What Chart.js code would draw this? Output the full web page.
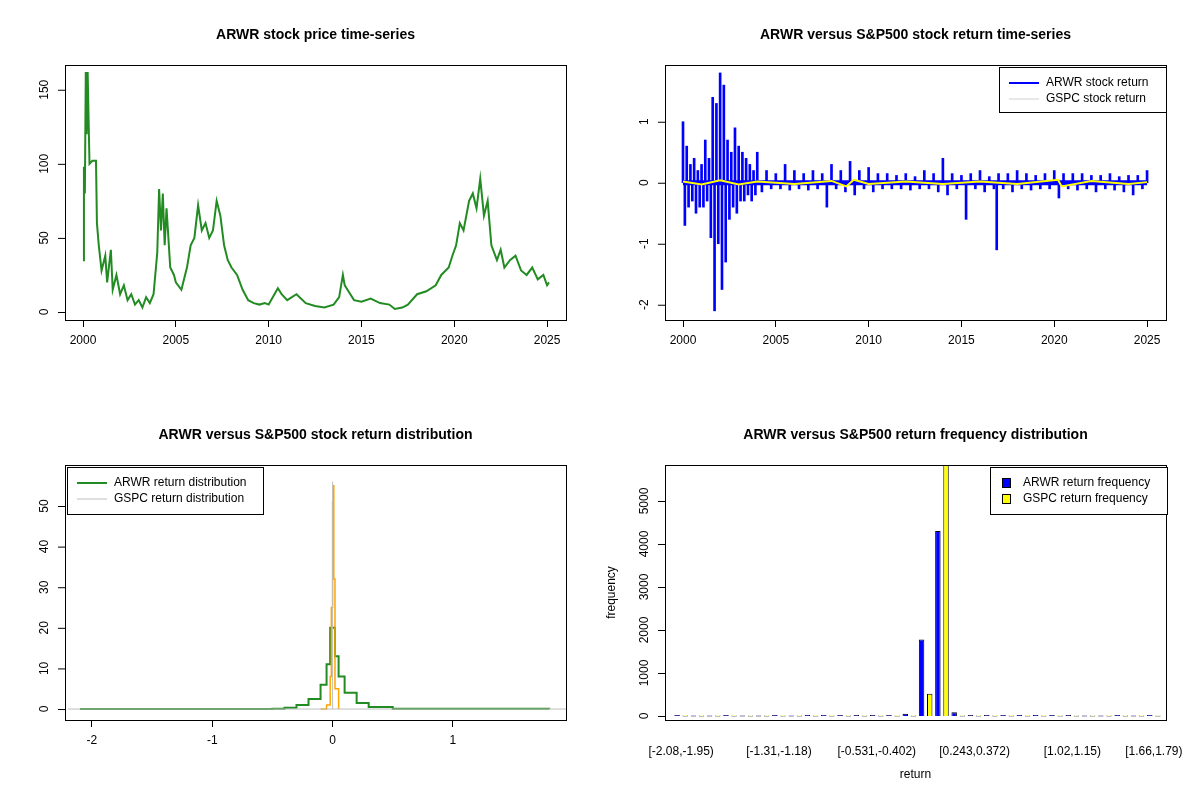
<!DOCTYPE html>
<html><head><meta charset="utf-8">
<script src="https://cdn.jsdelivr.net/npm/chart.js@4.4.1/dist/chart.umd.min.js"></script>
<style>body{margin:0;background:#fff}canvas{position:absolute}</style>
</head><body>
<canvas id="c1" width="600" height="400" style="left:0;top:0"></canvas>
<canvas id="c2" width="600" height="400" style="left:600px;top:0"></canvas>
<canvas id="c3" width="600" height="400" style="left:0;top:400px"></canvas>
<canvas id="c4" width="600" height="400" style="left:600px;top:400px"></canvas>
<script>
const priceYears=[2000.0,2000.05,2000.1,2000.15,2000.2,2000.25,2000.35,2000.5,2000.7,2000.75,2000.85,2001.0,2001.2,2001.3,2001.5,2001.6,2001.8,2002.0,2002.2,2002.4,2002.6,2002.8,2003.0,2003.2,2003.4,2003.6,2003.8,2004.0,2004.1,2004.2,2004.3,2004.4,2004.5,2004.7,2004.9,2005.0,2005.3,2005.6,2005.8,2006.0,2006.2,2006.4,2006.6,2006.8,2007.0,2007.2,2007.4,2007.6,2007.8,2008.0,2008.3,2008.6,2008.9,2009.2,2009.5,2009.8,2010.0,2010.5,2010.7,2011.0,2011.5,2012.0,2012.5,2013.0,2013.5,2013.8,2014.0,2014.1,2014.3,2014.6,2015.0,2015.5,2016.0,2016.5,2016.8,2017.2,2017.5,2018.0,2018.5,2019.0,2019.3,2019.7,2019.9,2020.1,2020.3,2020.5,2020.8,2021.0,2021.2,2021.4,2021.6,2021.8,2022.0,2022.3,2022.5,2022.7,2023.0,2023.3,2023.6,2023.9,2024.2,2024.5,2024.8,2025.0,2025.1];
const priceVals=[35,98,80,162,120,162,100,102,102,60,45,28,38,20,42,15,25,12,18,8,12,5,8,3,10,6,12,40,83,55,80,45,70,30,25,20,15,30,45,50,72,55,60,50,55,75,65,45,35,30,25,15,8,6,5,6,5,16,12,8,12,6,4,3,5,10,25,18,14,8,7,9,6,5,2,3,5,12,14,18,25,30,38,45,60,55,75,80,70,90,65,75,45,35,42,30,35,38,28,25,30,22,25,18,20];
const arwrRetYears=[2000.0,2000.1,2000.2,2000.3,2000.4,2000.5,2000.6,2000.7,2000.8,2000.9,2001.0,2001.1,2001.2,2001.3,2001.4,2001.5,2001.6,2001.7,2001.8,2001.9,2002.0,2002.1,2002.2,2002.3,2002.4,2002.5,2002.6,2002.7,2002.8,2002.9,2003.0,2003.1,2003.2,2003.3,2003.4,2003.5,2003.6,2003.7,2003.8,2003.9,2004.0,2004.25,2004.5,2004.75,2005.0,2005.25,2005.5,2005.75,2006.0,2006.25,2006.5,2006.75,2007.0,2007.25,2007.5,2007.75,2008.0,2008.25,2008.5,2008.75,2009.0,2009.25,2009.5,2009.75,2010.0,2010.25,2010.5,2010.75,2011.0,2011.25,2011.5,2011.75,2012.0,2012.25,2012.5,2012.75,2013.0,2013.25,2013.5,2013.75,2014.0,2014.25,2014.5,2014.75,2015.0,2015.25,2015.5,2015.75,2016.0,2016.25,2016.5,2016.75,2016.9,2017.0,2017.25,2017.5,2017.75,2018.0,2018.25,2018.5,2018.75,2019.0,2019.25,2019.5,2019.75,2020.0,2020.25,2020.5,2020.75,2021.0,2021.25,2021.5,2021.75,2022.0,2022.25,2022.5,2022.75,2023.0,2023.25,2023.5,2023.75,2024.0,2024.25,2024.5,2024.75,2025.0];
const arwrRetVals=[1.0,-0.7,0.6,-0.4,0.3,-0.3,0.4,-0.5,0.2,-0.4,0.3,-0.4,0.7,-0.3,0.4,-0.9,1.4,-2.1,1.3,-1.0,1.8,-1.75,1.6,-1.3,0.7,-0.6,0.5,-0.4,0.9,-0.5,0.6,-0.3,0.5,-0.3,0.4,-0.2,0.3,-0.3,0.2,-0.2,0.5,-0.15,0.2,-0.1,0.15,-0.1,0.3,-0.12,0.2,-0.1,0.15,-0.12,0.2,-0.1,0.15,-0.4,0.3,-0.1,0.2,-0.15,0.35,-0.2,0.2,-0.1,0.25,-0.15,0.15,-0.1,0.15,-0.1,0.12,-0.1,0.15,-0.12,0.1,-0.1,0.2,-0.1,0.15,-0.15,0.4,-0.2,0.15,-0.1,0.12,-0.6,0.15,-0.1,0.2,-0.15,0.1,-0.1,-1.1,0.15,-0.1,0.15,-0.15,0.2,-0.1,0.15,-0.12,0.12,-0.1,0.15,-0.1,0.2,-0.25,0.15,-0.1,0.15,-0.12,0.15,-0.1,0.12,-0.15,0.12,-0.1,0.15,-0.12,0.1,-0.15,0.12,-0.2,0.12,-0.1,0.2,-0.1,0.05];
const gspcRetYears=[2000,2001,2002,2003,2004,2006,2008,2008.8,2009.2,2010,2012,2014,2016,2018,2020.2,2020.4,2022,2024,2025];
const gspcRetVals=[0.02,-0.03,0.04,-0.03,0.02,-0.02,0.03,-0.06,0.05,-0.02,0.02,-0.02,0.02,-0.02,0.05,-0.06,0.03,-0.02,0.01];
const arwrDensX=[-2.1,-0.5,-0.4,-0.3,-0.2,-0.1,-0.05,-0.02,0,0.02,0.05,0.1,0.2,0.3,0.5,1.8];
const arwrDensY=[0,0.1,0.3,1,2.5,6,11,20,20,13,8,4,1.5,0.5,0.1,0];
const gspcDensX=[-0.1,-0.05,-0.02,-0.01,0,0.005,0.01,0.02,0.05];
const gspcDensY=[0,1,8,25,51,55,32,5,0];
const binLabels=["[-2.08,-1.95)","[-1.95,-1.82)","[-1.82,-1.69)","[-1.69,-1.56)","[-1.56,-1.44)","[-1.44,-1.31)","[-1.31,-1.18)","[-1.18,-1.05)","[-1.05,-0.918)","[-0.918,-0.789)","[-0.789,-0.66)","[-0.66,-0.531)","[-0.531,-0.402)","[-0.402,-0.273)","[-0.273,-0.144)","[-0.144,-0.015)","[-0.015,0.114)","[0.114,0.243)","[0.243,0.372)","[0.372,0.501)","[0.501,0.63)","[0.63,0.759)","[0.759,0.888)","[0.888,1.02)","[1.02,1.15)","[1.15,1.27)","[1.27,1.4)","[1.4,1.53)","[1.53,1.66)","[1.66,1.79)"];
const arwrFreq=[1,0,0,1,0,0,1,0,1,2,3,4,20,25,50,1780,4300,90,20,20,5,20,3,2,1,0,0,1,0,1];
const gspcFreq=[0,0,0,0,0,0,0,0,0,0,0,0,0,0,0,520,5900,0,0,0,0,0,0,0,0,0,0,0,0,0];
const shownBins=[0,6,12,18,24,29];

const FONT='"Liberation Sans", Arial, sans-serif';
Chart.defaults.font.family=FONT;Chart.defaults.font.size=12;Chart.defaults.color='#000';
Chart.defaults.animation=false;Chart.defaults.devicePixelRatio=1;
const FRAME={left:65,top:65,right:566,bottom:320};

function rPlugin(title,yTicks,legend,extra){return{id:'r',afterDraw(c){const x=c.ctx,a=FRAME;x.save();
x.strokeStyle='#000';x.lineWidth=1;x.strokeRect(a.left+0.5,a.top+0.5,a.right-a.left,a.bottom-a.top);
x.fillStyle='#000';x.font='bold 14px '+FONT;x.textAlign='center';x.textBaseline='middle';x.fillText(title,(a.left+a.right)/2,35);
x.font='12px '+FONT;const ys=c.scales.y;
yTicks.forEach(v=>{const p=ys.getPixelForValue(v);x.save();x.translate(a.left-20,p);x.rotate(-Math.PI/2);x.fillText(String(v),0,0);x.restore();
x.beginPath();x.moveTo(a.left,p+0.5);x.lineTo(a.left-7,p+0.5);x.stroke();});
if(legend){const L=legend;x.fillStyle='#fff';x.fillRect(L.x,L.y,L.w,L.h);x.strokeRect(L.x+0.5,L.y+0.5,L.w,L.h);
L.items.forEach((it,i)=>{const yy=L.y+16+i*16;if(it.box){x.fillStyle=it.color;x.fillRect(L.x+12,yy-5,9,10);x.strokeStyle='#000';x.strokeRect(L.x+12.5,yy-4.5,8,9);}
else{x.strokeStyle=it.color;x.lineWidth=it.lw;x.beginPath();x.moveTo(L.x+10,yy);x.lineTo(L.x+40,yy);x.stroke();x.lineWidth=1;}
x.fillStyle='#000';x.textAlign='left';x.fillText(it.label,L.x+(it.box?33:47),yy);});}
if(extra)extra(x,a);x.restore();}}}
function xAxis(min,max,step){return{type:'linear',min,max,offset:false,afterFit(s){s.height=80;s.paddingLeft=0;s.paddingRight=0},afterBuildTicks(s){const t=[];for(let v=Math.ceil(min/step)*step;v<=max;v+=step)t.push({value:Math.round(v*1000)/1000});s.ticks=t},
grid:{display:true,offset:false,drawOnChartArea:false,tickLength:7,color:'#000'},border:{display:false},ticks:{padding:6,maxRotation:0,callback:v=>String(v)}}}
function yAxis(min,max,w){return{type:'linear',min,max,afterFit(s){s.width=w||65},grid:{display:false},border:{display:false},ticks:{display:false}}}
const layout={padding:{top:65,right:34,left:0,bottom:0}};
const common={responsive:false,layout,plugins:{legend:{display:false},tooltip:{enabled:false}}};

new Chart(c1,{type:'line',data:{datasets:[{data:priceYears.map((v,i)=>({x:v,y:priceVals[i]})),borderColor:'#228B22',borderWidth:2,pointRadius:0,tension:0}]},
options:Object.assign({},common,{scales:{x:xAxis(1999.03,2026.02,5),y:yAxis(-5.4,166.7)}}),plugins:[rPlugin('ARWR stock price time-series',[0,50,100,150])]});

new Chart(c2,{type:'bar',data:{datasets:[
{type:'line',data:gspcRetYears.map((v,i)=>({x:v,y:gspcRetVals[i]})),borderColor:'#FFFF00',borderWidth:2,pointRadius:0,order:0},
{data:arwrRetYears.map((v,i)=>({x:v,y:arwrRetVals[i]})),backgroundColor:'#0000FF',barThickness:2,order:1}]},
options:Object.assign({},common,{scales:{x:xAxis(1999.03,2026.02,5),y:yAxis(-2.25,1.93)}}),
plugins:[{id:'zero',beforeDatasetsDraw(c){const x=c.ctx,p=c.scales.y.getPixelForValue(0),l=c.scales.x.getPixelForValue(2000),r=c.scales.x.getPixelForValue(2025);x.save();x.strokeStyle='#0000FF';x.lineWidth=5;x.beginPath();x.moveTo(l,p);x.lineTo(r,p);x.stroke();x.restore();}},
rPlugin('ARWR versus S&P500 stock return time-series',[-2,-1,0,1],{x:999-600,y:67,w:167,h:45,items:[{label:'ARWR stock return',color:'#0000FF',lw:2},{label:'GSPC stock return',color:'#d0d0d0',lw:1}]})]});

new Chart(c3,{type:'line',data:{datasets:[
{data:[{x:-2.2,y:0},{x:1.94,y:0}],borderColor:'#bebebe',borderWidth:1,pointRadius:0},
{data:[{x:0,y:0},{x:0,y:56}],borderColor:'#bebebe',borderWidth:1,pointRadius:0},
{data:gspcDensX.map((v,i)=>({x:v,y:gspcDensY[i]})),borderColor:'#FFA500',borderWidth:1.5,pointRadius:0,stepped:true},
{data:arwrDensX.map((v,i)=>({x:v,y:arwrDensY[i]})),borderColor:'#228B22',borderWidth:2,pointRadius:0,stepped:true}]},
options:Object.assign({},common,{scales:{x:xAxis(-2.224,1.94,1),y:yAxis(-2.7,60.1)}}),
plugins:[rPlugin('ARWR versus S&P500 stock return distribution',[0,10,20,30,40,50],{x:67,y:67,w:196,h:47,items:[{label:'ARWR return distribution',color:'#228B22',lw:2},{label:'GSPC return distribution',color:'#bebebe',lw:1}]})]});

new Chart(c4,{type:'bar',data:{labels:binLabels,datasets:[
{data:arwrFreq,backgroundColor:'#0000FF',borderColor:'#000',borderWidth:1,minBarLength:1,barPercentage:0.67,categoryPercentage:1},
{data:gspcFreq,backgroundColor:'#FFFF00',borderColor:'#000',borderWidth:1,minBarLength:1,barPercentage:0.67,categoryPercentage:1}]},
options:Object.assign({},common,{layout:{padding:{top:65,right:38,left:0,bottom:0}},scales:{x:{type:'category',afterFit(s){s.height=80;s.paddingLeft=0;s.paddingRight=0},grid:{display:false},border:{display:false},
ticks:{autoSkip:false,maxRotation:0,padding:16,callback(v,i){return shownBins.includes(i)?binLabels[i]:''}}},y:yAxis(-93,5837,73)}}),
plugins:[rPlugin('ARWR versus S&P500 return frequency distribution',[0,1000,2000,3000,4000,5000],{x:990-600,y:67,w:177,h:47,items:[{label:'ARWR return frequency',color:'#0000FF',box:true},{label:'GSPC return frequency',color:'#FFFF00',box:true}]},
(x,a)=>{x.fillStyle='#000';x.textAlign='center';x.font='12px '+FONT;x.fillText('return',(a.left+a.right)/2,375);x.save();x.translate(12,(a.top+a.bottom)/2);x.rotate(-Math.PI/2);x.fillText('frequency',0,0);x.restore();})]});
</script></body></html>
